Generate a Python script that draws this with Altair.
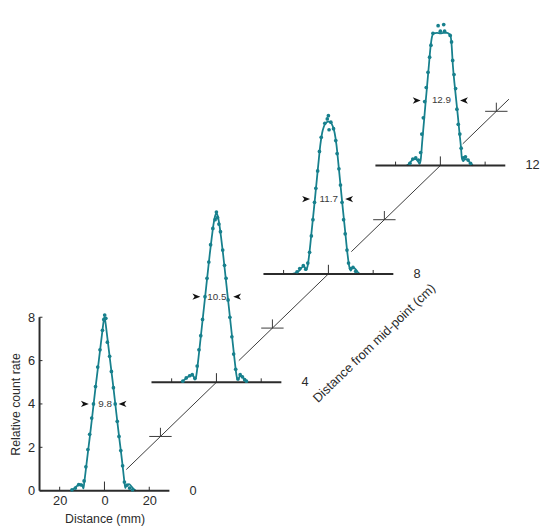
import altair as alt
import pandas as pd

TEAL = "#17808d"
INK = "#2b2b2b"
FONT = "Liberation Sans"

# ---------------- data ----------------
distances_cm = [0, 4, 8, 12]
distance_labels = ["0", "4", "8", "12"]
cross_cm = [2, 6, 10, 14]
seg_start_cm = [0.78, 4.8, 8.82, 12.8]
seg_end_cm = [4.0, 8.0, 12.0, 14.45]
fwhm_text = ["9.8", "10.5", "11.7", "12.9"]
fwhm_level = [4.0, 3.95, 3.45, 3.0]
fwhm_text_x = [0.3, 0.2, 0.2, 0.5]
arrow_left_tip = [-7.0, -7.2, -8.2, -8.8]
arrow_right_tip = [6.3, 7.5, 7.5, 8.8]
y_ticks = [0, 2, 4, 6, 8]
x_ticks = [-20, 0, 20]

# fitted curves (distance mm, relative count) per profile
c0x = [-15, -14, -13, -12, -11, -10, -9.4, -9, -8, -7, -6, -5, -4, -3, -2, -1, -0.4, 0, 0.4, 1,
       2, 3, 4, 5, 6, 7, 8, 8.8, 9.3, 10, 11, 12, 13, 14]
c0y = [0, 0.06, 0.15, 0.24, 0.3, 0.26, 0.1, 0.4, 1.25, 2.1, 2.95, 3.85, 4.75, 5.6, 6.45, 7.3, 7.8, 8.0, 7.8, 7.3,
       6.45, 5.6, 4.75, 3.85, 2.95, 2.1, 1.25, 0.5, 0.12, 0.28, 0.3, 0.2, 0.08, 0]
c4x = [-16, -14.5, -13, -11.5, -10.3, -9.6, -9.2, -8, -7, -6, -5, -4, -3, -2, -1.2, -0.5, 0, 0.5, 1.2, 2,
       3, 4, 5, 6, 7, 8, 9.2, 9.7, 10.5, 11.5, 12.5, 13.5]
c4y = [0, 0.1, 0.22, 0.32, 0.3, 0.12, 0.2, 1.14, 2.09, 3.04, 3.99, 4.94, 5.89, 6.75, 7.35, 7.7, 7.8, 7.7, 7.35, 6.75,
       5.89, 4.94, 3.99, 3.04, 2.09, 1.14, 0.2, 0.12, 0.3, 0.28, 0.12, 0]
c8x = [-16, -14.5, -13, -11.8, -10.8, -10, -9.3, -8.5, -7.5, -6.5, -5.5, -4.5, -3.6, -2.8, -2, -1, 0, 1, 2, 2.8,
       3.6, 4.5, 5.5, 6.5, 7.5, 8.5, 9.3, 10, 10.8, 11.8, 13, 14]
c8y = [0, 0.05, 0.15, 0.3, 0.35, 0.2, 0.35, 0.95, 1.95, 2.95, 4.0, 5.05, 5.95, 6.5, 6.8, 6.98, 7.02, 6.98, 6.8, 6.5,
       5.95, 5.05, 4.0, 2.95, 1.95, 0.95, 0.35, 0.15, 0.3, 0.25, 0.1, 0]
c12x = [-15, -14, -13, -12, -11, -10, -9.3, -8.8, -8.1, -7.3, -6.6, -5.9, -5.1, -4.4, -3.7, -3.0, -1.5, 0, 1.5, 3.0,
        3.8, 4.5, 5.0, 5.6, 6.3, 7.0, 7.8, 8.5, 9.2, 9.6, 10.2, 11, 12, 13, 14.5]
c12y = [0, 0.08, 0.2, 0.3, 0.3, 0.2, 0.08, 0.24, 1.1, 2.05, 2.9, 3.7, 4.65, 5.45, 5.95, 6.1, 6.12, 6.1, 6.12, 6.12,
        6.08, 6.0, 5.6, 4.6, 3.8, 3.1, 2.3, 1.55, 0.85, 0.35, 0.2, 0.3, 0.28, 0.15, 0]

# measured points per profile
d0x = [-14.5, -13, -11.5, -10.3, -9.1, -8.3, -7.4, -6.6, -5.7, -4.9, -4.0, -3.0, -2.0, -0.9, -0.3, 0.1, 0.6, 1.3,
       2.3, 3.1, 4.0, 4.8, 5.7, 6.5, 7.3, 8.1, 8.9, 10.0, 11.2, 12.5]
d0y = [0.04, 0.12, 0.28, 0.26, 0.45, 1.1, 1.9, 2.6, 3.35, 4.0, 4.8, 5.7, 6.5, 7.4, 7.9, 8.1, 7.95, 6.85,
       6.2, 5.5, 4.75, 4.0, 3.2, 2.5, 1.85, 1.15, 0.4, 0.25, 0.12, 0.04]
d4x = [-15, -13.5, -12, -10.8, -9.6, -8.6, -7.8, -7.0, -6.2, -5.1, -4.2, -3.4, -2.6, -1.6, -0.6, 0, 0.5, 1.1, 1.8,
       2.8, 3.6, 4.3, 5.2, 6.0, 6.9, 7.7, 8.6, 9.6, 10.6, 11.6, 12.6, 13.4]
d4y = [0.05, 0.2, 0.3, 0.35, 0.18, 0.75, 1.5, 2.15, 2.9, 3.95, 4.8, 5.55, 6.35, 7.1, 7.5, 7.85, 7.6, 7.3, 6.95,
       6.1, 5.4, 4.8, 3.8, 3.0, 2.1, 1.3, 0.6, 0.15, 0.35, 0.25, 0.12, 0.05]
d8x = [-14, -12.8, -11.2, -10.1, -9.2, -8.4, -7.6, -6.9, -6.2, -5.6, -4.8, -4.0, -3.2, -1.6, -0.5, 0, 0.3, 1.1,
       2.3, 3.3, 3.9, 4.7, 5.4, 6.1, 6.8, 7.5, 8.3, 9.0, 9.9, 11.0, 12.2]
d8y = [0.1, 0.25, 0.38, 0.22, 0.5, 1.0, 1.75, 2.5, 3.3, 3.95, 4.75, 5.65, 6.3, 6.95, 7.15, 7.3, 6.65, 7.0,
       6.7, 6.15, 5.55, 4.85, 4.1, 3.3, 2.5, 1.85, 1.1, 0.5, 0.25, 0.3, 0.12]
d12x = [-13.6, -12.3, -11, -9.8, -8.8, -8.3, -7.6, -7.0, -6.3, -5.5, -4.8, -4.2, -3.3, -1.0, 0, 1.5, 1.9, 4.4,
        5.0, 5.5, 6.1, 6.8, 7.4, 8.0, 8.7, 9.3, 10.2, 11.2, 12.4, 13.5]
d12y = [0.1, 0.3, 0.35, 0.25, 0.6, 1.45, 2.2, 2.95, 3.6, 4.3, 5.0, 5.55, 6.1, 6.45, 6.2, 6.5, 6.2, 6.0,
        5.7, 4.85, 4.2, 3.55, 2.6, 1.9, 1.45, 0.8, 0.35, 0.4, 0.25, 0.1]

curves_x = [c0x, c4x, c8x, c12x]
curves_y = [c0y, c4y, c8y, c12y]
dots_x = [d0x, d4x, d8x, d12x]
dots_y = [d0y, d4y, d8y, d12y]

# oblique projection of the depth axis: 1 cm -> 12.5 mm across, 1.25 count-units up
MM_PER_CM = 12.5
UP_PER_CM = 1.25

# ---------------- tables ----------------
curve_rows, dot_rows = [], []
for i, d in enumerate(distances_cm):
    for j, (xv, yv) in enumerate(zip(curves_x[i], curves_y[i])):
        curve_rows.append({"panel": i, "order": j, "x": xv + MM_PER_CM * d, "y": yv + UP_PER_CM * d})
    for xv, yv in zip(dots_x[i], dots_y[i]):
        dot_rows.append({"panel": i, "x": xv + MM_PER_CM * d, "y": yv + UP_PER_CM * d})
curves_df = pd.DataFrame(curve_rows)
dots_df = pd.DataFrame(dot_rows)

base_df = pd.DataFrame({
    "x": [MM_PER_CM * d - 29 for d in distances_cm],
    "x2": [MM_PER_CM * d + 29 for d in distances_cm],
    "y": [UP_PER_CM * d for d in distances_cm],
})
btick_rows = []
for d in distances_cm:
    for t in x_ticks:
        h = 0.42 if t == 0 else 0.18
        btick_rows.append({"x": MM_PER_CM * d + t, "y": UP_PER_CM * d, "y2": UP_PER_CM * d + h})
btick_df = pd.DataFrame(btick_rows)

yaxis_df = pd.DataFrame({"x": [-29], "y": [0], "y2": [max(y_ticks)]})
ytick_df = pd.DataFrame({"x": [-29] * len(y_ticks), "x2": [-27.7] * len(y_ticks), "y": y_ticks})

diag_df = pd.DataFrame({
    "x": [MM_PER_CM * s for s in seg_start_cm], "x2": [MM_PER_CM * e for e in seg_end_cm],
    "y": [UP_PER_CM * s for s in seg_start_cm], "y2": [UP_PER_CM * e for e in seg_end_cm],
})
cross_h_df = pd.DataFrame({
    "x": [MM_PER_CM * c - 5 for c in cross_cm], "x2": [MM_PER_CM * c + 5 for c in cross_cm],
    "y": [UP_PER_CM * c for c in cross_cm],
})
cross_v_df = pd.DataFrame({
    "x": [MM_PER_CM * c for c in cross_cm],
    "y": [UP_PER_CM * c for c in cross_cm], "y2": [UP_PER_CM * c + 0.4 for c in cross_cm],
})
dlab_df = pd.DataFrame({
    "x": [MM_PER_CM * d + 38 for d in distances_cm],
    "y": [UP_PER_CM * d for d in distances_cm], "label": distance_labels,
})
fwhm_df = pd.DataFrame({
    "x": [MM_PER_CM * d + o for d, o in zip(distances_cm, fwhm_text_x)],
    "y": [UP_PER_CM * d + l for d, l in zip(distances_cm, fwhm_level)], "label": fwhm_text,
})
ARROW_HALF = 1.76  # mm, half of the arrowhead length
arrow_l_df = pd.DataFrame({
    "x": [MM_PER_CM * d + t - ARROW_HALF for d, t in zip(distances_cm, arrow_left_tip)],
    "y": [UP_PER_CM * d + l for d, l in zip(distances_cm, fwhm_level)],
})
arrow_r_df = pd.DataFrame({
    "x": [MM_PER_CM * d + t + ARROW_HALF for d, t in zip(distances_cm, arrow_right_tip)],
    "y": [UP_PER_CM * d + l for d, l in zip(distances_cm, fwhm_level)],
})
dtitle_df = pd.DataFrame({"x": [120.5], "y": [6.8], "label": ["Distance from mid-point (cm)"]})

# ---------------- chart ----------------
xs = alt.Scale(domain=[-29, 191], nice=False, zero=False)
ys = alt.Scale(domain=[0, 22], nice=False, zero=False)

x_axis = alt.Axis(values=x_ticks, labelExpr="abs(datum.value)", title="Distance (mm)",
                  ticks=False, domain=False, grid=False, labelFontSize=13, labelPadding=4,
                  labelColor=INK, titleColor=INK, titleFontSize=12.5, titleFontWeight="normal",
                  titleX=66, titleY=28, titleAlign="center", titleBaseline="middle",
                  labelFont=FONT, titleFont=FONT)
y_axis = alt.Axis(values=y_ticks, title="Relative count rate", ticks=False, domain=False, grid=False,
                  labelFontSize=13, labelPadding=5, labelColor=INK, titleColor=INK,
                  titleFontSize=12.5, titleFontWeight="normal", titleAngle=270,
                  titleX=-24, titleY=396, titleAlign="center", titleBaseline="middle",
                  labelFont=FONT, titleFont=FONT)

X = alt.X("x:Q", scale=xs)
Y = alt.Y("y:Q", scale=ys)

curves = alt.Chart(curves_df).mark_line(color=TEAL, strokeWidth=1.8, interpolate="monotone").encode(
    x=alt.X("x:Q", scale=xs, axis=x_axis),
    y=alt.Y("y:Q", scale=ys, axis=y_axis),
    detail="panel:N", order="order:Q",
)
dots = alt.Chart(dots_df).mark_circle(color=TEAL, size=14, opacity=1).encode(x=X, y=Y)

bases = alt.Chart(base_df).mark_rule(color=INK, strokeWidth=2).encode(x=X, x2="x2:Q", y=Y)
bticks = alt.Chart(btick_df).mark_rule(color=INK, strokeWidth=1).encode(x=X, y=Y, y2="y2:Q")
yline = alt.Chart(yaxis_df).mark_rule(color=INK, strokeWidth=2).encode(x=X, y=Y, y2="y2:Q")
yticks = alt.Chart(ytick_df).mark_rule(color=INK, strokeWidth=1).encode(x=X, x2="x2:Q", y=Y)
diag = alt.Chart(diag_df).mark_rule(color="#3a3a3a", strokeWidth=1).encode(x=X, x2="x2:Q", y=Y, y2="y2:Q")
cross_h = alt.Chart(cross_h_df).mark_rule(color="#3a3a3a", strokeWidth=1).encode(x=X, x2="x2:Q", y=Y)
cross_v = alt.Chart(cross_v_df).mark_rule(color="#3a3a3a", strokeWidth=1).encode(x=X, y=Y, y2="y2:Q")

dlabels = alt.Chart(dlab_df).mark_text(align="left", baseline="middle", fontSize=13, font=FONT,
                                        color=INK).encode(x=X, y=Y, text="label:N")
dtitle = alt.Chart(dtitle_df).mark_text(align="center", baseline="middle", fontSize=13, font=FONT,
                                         color=INK, angle=316).encode(x=X, y=Y, text="label:N")
fwhm = alt.Chart(fwhm_df).mark_text(align="center", baseline="middle", fontSize=10, font=FONT,
                                     color="#3a3a3a").encode(x=X, y=Y, text="label:N")
arrow_l = alt.Chart(arrow_l_df).mark_point(shape="M1,0L-1,-0.8L-0.45,0L-1,0.8Z", filled=True, size=64,
                                           color="#111111", opacity=1, strokeWidth=0).encode(x=X, y=Y)
arrow_r = alt.Chart(arrow_r_df).mark_point(shape="M-1,0L1,-0.8L0.45,0L1,0.8Z", filled=True, size=64,
                                           color="#111111", opacity=1, strokeWidth=0).encode(x=X, y=Y)

chart = alt.layer(
    curves, diag, cross_h, cross_v, bases, bticks, yline, yticks, dots,
    dlabels, dtitle, fwhm, arrow_l, arrow_r,
).properties(
    width=500, height=484,
    autosize=alt.AutoSizeParams(type="none"),
    padding={"left": 32, "top": 2, "right": 11, "bottom": 32},
).configure_view(stroke=None)

chart.save("out.html", embed_options={"renderer": "svg", "actions": False})
